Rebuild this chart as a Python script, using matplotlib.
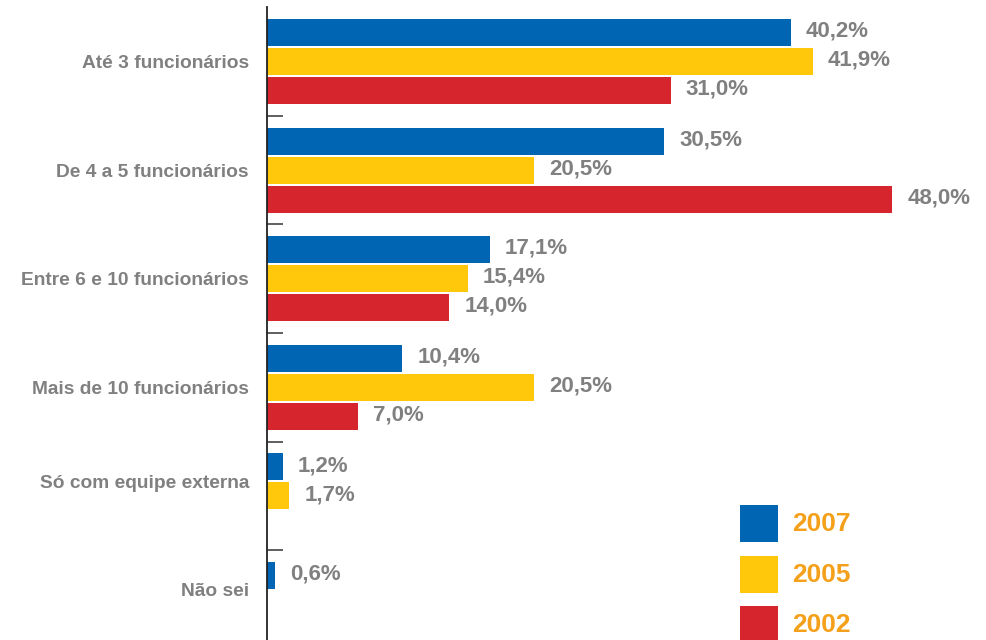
import numpy as np
import matplotlib
matplotlib.use("Agg")
import matplotlib.pyplot as plt
from matplotlib.patches import Rectangle

# dados
categorias = ["Até 3 funcionários", "De 4 a 5 funcionários", "Entre 6 e 10 funcionários",
              "Mais de 10 funcionários", "Só com equipe externa", "Não sei"]
anos = ["2007", "2005", "2002"]
v2007 = [40.2, 30.5, 17.1, 10.4, 1.2, 0.6]
v2005 = [41.9, 20.5, 15.4, 20.5, 1.7, np.nan]
v2002 = [31.0, 48.0, 14.0, 7.0, np.nan, np.nan]
cores = ["#0066B3", "#FFC80A", "#D6252C"]

plt.rcParams['font.family'] = ['Liberation Sans', 'DejaVu Sans']
cinza = "#808080"
laranja = "#F5A01A"

W, H = 986, 640
fig = plt.figure(figsize=(W / 100, H / 100), dpi=100)
ax = fig.add_axes([267 / W, 0, 719 / W, 633 / H])

series = [v2007, v2005, v2002]
passo = 0.267
altura = 0.25
y = np.arange(len(categorias))

for k, (vals, cor) in enumerate(zip(series, cores)):
    pos = y + (k - 1) * passo
    ax.barh(pos, np.nan_to_num(vals), height=altura, color=cor, linewidth=0)
    for p, v in zip(pos, vals):
        if np.isnan(v):
            continue
        txt = f"{v:.1f}%".replace(".", ",")
        ax.annotate(txt, (v, p), xytext=(10.8, 1), textcoords="offset points",
                    ha="left", va="center", fontsize=16, fontweight="bold", color=cinza)

# rótulo centrado nas barras existentes (quando falta 2002, entre 2007 e 2005)
pos_rot = []
for i in range(len(categorias)):
    if np.isnan(v2002[i]):
        pos_rot.append(y[i] - passo / 2)
    else:
        pos_rot.append(y[i])

ax.set_xlim(0, 55.2)
ax.set_ylim(5.327, -0.502)
ax.set_yticks(pos_rot)
ax.set_yticklabels(categorias, fontsize=13.8, fontweight="bold", color=cinza)
ax.set_yticks(y[:-1] + 0.5, minor=True)
ax.tick_params(axis="y", which="major", length=0, pad=13)
ax.tick_params(axis="y", which="minor", direction="in", length=11.5, width=1.2, color="#444444")
ax.set_xticks([])
for s in ["top", "right", "bottom"]:
    ax.spines[s].set_visible(False)
ax.spines["left"].set_color("#222222")
ax.spines["left"].set_linewidth(1.3)

# legenda manual
topos = [505, 556, 606]
for ano, cor, t in zip(anos, cores, topos):
    fig.add_artist(Rectangle((740 / W, (H - t - 37) / H), 38 / W, 37 / H,
                             transform=fig.transFigure, color=cor, linewidth=0))
    fig.text(792 / W, (H - t - 19) / H, ano, ha="left", va="center",
             fontsize=19, fontweight="bold", color=laranja)

fig.savefig("out.png", dpi=100)
